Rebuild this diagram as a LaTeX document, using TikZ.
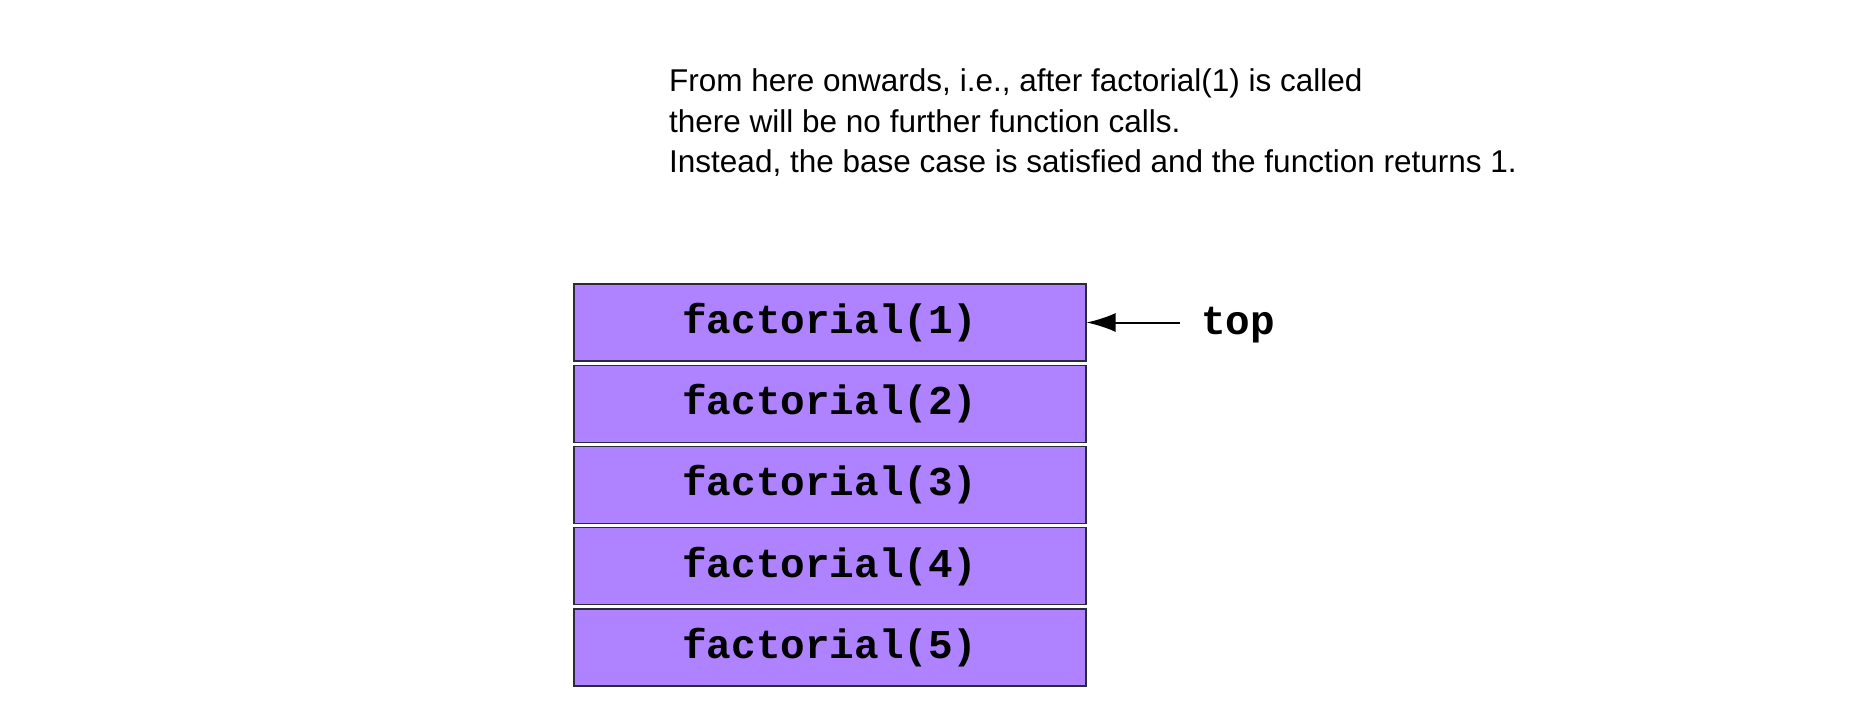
\documentclass[tikz,border=0pt]{standalone}
\usepackage{fontspec}
\setmainfont{Liberation Sans}
\newfontfamily\codefont{Liberation Mono}
\usetikzlibrary{arrows.meta}
\definecolor{framefill}{HTML}{AF83FF}
\definecolor{frameline}{HTML}{2A2A3A}
\tikzset{
    frame/.style={
        draw=frameline, line width=1.1pt, fill=framefill,
        minimum width=512pt, minimum height=77pt, inner sep=0pt,
        font=\codefont\bfseries\fontsize{41}{41}\selectfont
    },
    note/.style={anchor=base west, inner sep=0pt, font=\fontsize{31.5}{36}\selectfont}
}

\begin{document}
\begin{tikzpicture}[x=1pt,y=-1pt]
		\useasboundingbox (0,0) rectangle (1872,704);
		
		% Explanation above the stack
		\node [note] (note1) at (669,91) {From here onwards, i.e., after factorial(1) is called};
		\node [note] (note2) at (669,132) {there will be no further function calls.};
		\node [note] (note3) at (669,172.5) {Instead, the base case is satisfied and the function returns 1.};
		
		% Call stack frames
		\node [frame] (f1) at (830,322.5) {factorial(1)};
		\node [frame] (f2) at (830,403.75) {factorial(2)};
		\node [frame] (f3) at (830,485) {factorial(3)};
		\node [frame] (f4) at (830,566.25) {factorial(4)};
		\node [frame] (f5) at (830,647.5) {factorial(5)};
		
		% Top of stack pointer
		\node [anchor=west, inner sep=0pt, font=\codefont\bfseries\fontsize{41}{41}\selectfont] (toplabel) at (1201,325) {top};
		\coordinate (topstart) at (1180,322.5);
		\draw [-{Latex[length=29pt,width=19pt]}, line width=2pt] (topstart) -- (f1.east);
		
	\end{tikzpicture}
\end{document}
